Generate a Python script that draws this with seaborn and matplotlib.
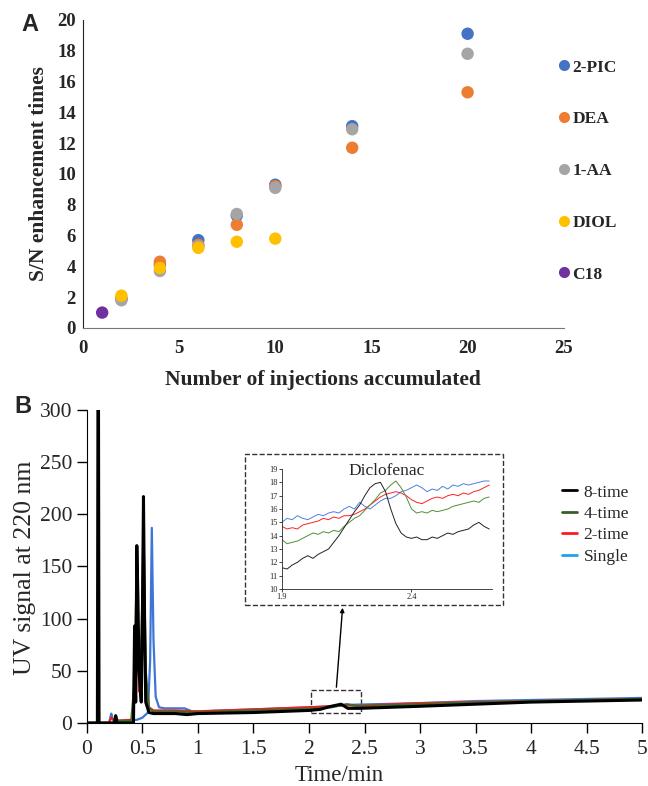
import numpy as np
import pandas as pd
import matplotlib
matplotlib.use("Agg")
import matplotlib.pyplot as plt
from matplotlib.lines import Line2D
from matplotlib.patches import Rectangle
import seaborn as sns

# ---- Panel A data: S/N enhancement vs number of injections
phases = ["2-PIC", "DEA", "1-AA", "DIOL", "C18"]
phase_colors = ["#4472c4", "#ed7d31", "#a5a5a5", "#ffc000", "#7030a0"]
inj_pic = [2, 4, 6, 8, 10, 14, 20]
sn_pic = [1.9, 4.1, 5.7, 7.3, 9.3, 13.1, 19.1]
inj_dea = [2, 4, 6, 8, 10, 14, 20]
sn_dea = [1.9, 4.3, 5.4, 6.7, 9.2, 11.7, 15.3]
inj_aa = [2, 4, 6, 8, 10, 14, 20]
sn_aa = [1.8, 3.7, 5.3, 7.4, 9.1, 12.9, 17.8]
inj_diol = [2, 4, 6, 8, 10]
sn_diol = [2.1, 3.9, 5.2, 5.6, 5.8]
inj_c18 = [1]
sn_c18 = [1.0]

# ---- Panel B data: chromatograms (time in min, UV signal)
t_single = [0, 0.2, 0.22, 0.23, 0.24, 0.3, 0.45, 0.5, 0.55, 0.57, 0.585, 0.6, 0.62, 0.65, 0.7, 0.88, 0.95,
            1.2, 1.5, 2.0, 2.2, 2.3, 2.4, 2.6, 3.0, 3.5, 4.0, 4.5, 5.0]
s_single = [0, 0, 9, 5, 2, 2, 3, 5, 10, 60, 187, 80, 25, 15, 14, 14, 11,
            12, 13, 15, 16, 17, 17.5, 18, 19, 21, 22, 23, 24]
t_2 = [0, 0.2, 0.22, 0.25, 0.4, 0.42, 0.43, 0.44, 0.45, 0.47, 0.5, 0.51, 0.53, 0.56, 0.6, 0.8, 1.0,
       1.5, 2.0, 2.2, 2.32, 2.45, 3.0, 3.5, 4.0, 4.5, 5.0]
s_2 = [0, 0, 5, 2, 3, 5, 82, 40, 120, 30, 90, 150, 40, 15, 12, 12, 11,
       13, 15, 16, 17, 16.5, 19, 20, 21, 22, 23]
t_4 = [0, 0.24, 0.26, 0.28, 0.4, 0.43, 0.44, 0.45, 0.46, 0.48, 0.5, 0.51, 0.53, 0.56, 0.6, 0.8, 1.0,
       1.5, 2.0, 2.2, 2.34, 2.45, 3.0, 3.5, 4.0, 4.5, 5.0]
s_4 = [0, 0, 7, 2, 2, 40, 100, 150, 80, 30, 120, 190, 50, 14, 11, 11, 10,
       12, 13.5, 15, 18, 16, 18, 19.5, 21, 22, 23]
t_8 = [0, 0.095, 0.1, 0.105, 0.11, 0.2, 0.25, 0.26, 0.27, 0.42, 0.43, 0.435, 0.44, 0.45, 0.46, 0.47,
       0.49, 0.5, 0.51, 0.52, 0.53, 0.56, 0.6, 0.8, 0.9, 1.0, 1.5, 2.0, 2.1, 2.2, 2.29, 2.35, 2.45,
       3.0, 3.5, 4.0, 4.5, 5.0]
s_8 = [0, 0, 305, 305, 0, 0, 0, 7, 0, 0, 93, 60, 20, 170, 120, 50,
       20, 100, 217, 100, 20, 10, 9, 9, 8, 9, 10, 12, 13, 16, 18, 14, 14,
       16, 18, 20, 21, 22]

# ---- Inset data: Diclofenac region
t_in = [1.90, 1.92, 1.94, 1.96, 1.98, 2.00, 2.02, 2.04, 2.06, 2.08, 2.10, 2.12, 2.14, 2.16, 2.18, 2.20,
        2.22, 2.24, 2.26, 2.28, 2.30, 2.32, 2.34, 2.36, 2.38, 2.40, 2.42, 2.44, 2.46, 2.48, 2.50, 2.52,
        2.54, 2.56, 2.58, 2.60, 2.62, 2.64, 2.66, 2.68, 2.70]
in_8 = [11.6, 11.5, 11.8, 12.0, 12.3, 12.5, 12.3, 12.6, 12.8, 13.0, 13.5, 14.0, 14.6, 15.2, 15.8, 16.3,
        17.0, 17.6, 17.9, 18.0, 17.3, 16.0, 14.9, 14.2, 13.9, 13.8, 13.9, 13.7, 13.7, 13.9, 13.8, 14.0,
        14.2, 14.1, 14.3, 14.4, 14.5, 14.8, 15.0, 14.7, 14.5]
in_4 = [13.7, 13.4, 13.5, 13.6, 13.8, 14.0, 14.2, 14.1, 14.3, 14.2, 14.4, 14.3, 14.7, 15.0, 15.3, 15.5,
        15.9, 16.3, 16.7, 17.2, 17.4, 17.8, 18.1, 17.6, 16.9, 16.0, 15.7, 15.8, 15.7, 15.9, 15.8, 15.9,
        16.0, 16.2, 16.3, 16.4, 16.5, 16.6, 16.5, 16.8, 16.9]
in_2 = [14.7, 14.5, 14.6, 14.5, 14.8, 14.9, 15.0, 15.1, 15.3, 15.2, 15.4, 15.3, 15.5, 15.5, 15.6, 15.8,
        16.0, 16.3, 16.6, 16.9, 17.1, 17.2, 17.3, 17.2, 17.0, 16.7, 16.5, 16.4, 16.6, 16.8, 16.9, 16.8,
        17.0, 17.1, 17.0, 17.2, 17.1, 17.3, 17.4, 17.6, 17.8]
in_1 = [15.0, 15.3, 15.2, 15.5, 15.3, 15.2, 15.4, 15.6, 15.5, 15.7, 15.8, 15.7, 16.0, 16.2, 16.0, 16.5,
        16.2, 16.0, 16.3, 16.6, 16.8, 16.8, 17.0, 17.3, 17.4, 17.6, 17.8, 17.6, 17.3, 17.5, 17.4, 17.7,
        17.5, 17.8, 17.7, 17.9, 17.8, 17.9, 18.0, 18.1, 18.1]

sns.set_style("white")
plt.rcParams["font.family"] = ["Liberation Serif", "DejaVu Serif"]

fig = plt.figure(figsize=(6.48, 7.86), dpi=100)

# ================= Panel A
axA = fig.add_axes([0.128, 0.5827, 0.742, 0.392])
dfA = pd.concat([
    pd.DataFrame({"x": inj_pic, "y": sn_pic, "phase": "2-PIC"}),
    pd.DataFrame({"x": inj_dea, "y": sn_dea, "phase": "DEA"}),
    pd.DataFrame({"x": inj_aa, "y": sn_aa, "phase": "1-AA"}),
    pd.DataFrame({"x": inj_diol, "y": sn_diol, "phase": "DIOL"}),
    pd.DataFrame({"x": inj_c18, "y": sn_c18, "phase": "C18"}),
], ignore_index=True)
sns.scatterplot(data=dfA, x="x", y="y", hue="phase", hue_order=phases,
                palette=phase_colors, s=80, edgecolor="none", ax=axA, legend=False)
axA.set_xlim(0, 25)
axA.set_ylim(0, 20)
axA.set_xticks(range(0, 26, 5))
axA.set_yticks(range(0, 21, 2))
axA.tick_params(axis="x", length=0, labelsize=13.5, pad=9)
axA.tick_params(axis="y", length=0, labelsize=13.5, pad=5)
for lab in axA.get_xticklabels() + axA.get_yticklabels():
    lab.set_fontweight("bold")
sns.despine(ax=axA)
axA.spines["left"].set_color("#222222")
axA.spines["bottom"].set_color("#777777")
axA.set_xlabel("Number of injections accumulated", fontsize=15.5, fontweight="bold")
axA.set_ylabel("S/N enhancement times", fontsize=15.5, fontweight="bold")
axA.xaxis.set_label_coords(0.5, -0.135)
axA.yaxis.set_label_coords(-0.07, 0.5)
handlesA = [Line2D([], [], ls="none", marker="o", ms=8, mec="none", mfc=c) for c in phase_colors]
axA.legend(handlesA, phases, loc="upper left", bbox_to_anchor=(0.971, 0.90),
           frameon=False, labelspacing=2.05, handlelength=0.6, handletextpad=0.2, borderpad=0,
           prop={"weight": "bold", "size": 12.5})
fig.text(0.033, 0.969, "A", fontsize=17, fontweight="bold", family="Liberation Sans", va="center")

# ================= Panel B
axB = fig.add_axes([0.134, 0.0802, 0.857, 0.3982])
traces = [("Single", t_single, s_single, "#3d76d6", 1.6),
          ("2-time", t_2, s_2, "#ff1a1a", 1.6),
          ("4-time", t_4, s_4, "#3e6b2a", 1.6),
          ("8-time", t_8, s_8, "black", 2.2)]
for name, t, s, c, lw in traces:
    sns.lineplot(x=t, y=s, color=c, lw=lw, sort=False, estimator=None, ax=axB)
axB.set_xlim(0, 5)
axB.set_ylim(0, 300)
axB.set_xticks(np.arange(0, 5.01, 0.5))
axB.set_xticklabels(["0", "0.5", "1", "1.5", "2", "2.5", "3", "3.5", "4", "4.5", "5"])
axB.set_yticks(range(0, 301, 50))
axB.tick_params(direction="out", length=7, width=1, labelsize=15.5, bottom=True, left=True, color="black")
axB.tick_params(axis="x", pad=5)
sns.despine(ax=axB)
axB.spines["left"].set_color("black")
axB.spines["bottom"].set_color("black")
axB.set_xlabel("Time/min", fontsize=16.5)
axB.set_ylabel("UV signal at 220 nm", fontsize=18.5)
axB.xaxis.set_label_coords(0.454, -0.135)
axB.yaxis.set_label_coords(-0.092, 0.495)

handlesB = [Line2D([], [], color=c, lw=2) for c in ["black", "#3a5e2a", "#ff1a1a", "#1da3ee"]]
axB.legend(handlesB, ["8-time", "4-time", "2-time", "Single"], loc="upper left",
           bbox_to_anchor=(0.84, 0.79), frameon=False, fontsize=12.5, labelspacing=0.3,
           handlelength=0.85, handletextpad=0.4, borderpad=0)

# zoom box + arrow
axB.add_patch(Rectangle((2.02, 9.6), 0.45, 22, fill=False, ls="--", lw=1, ec="#333333"))
axB.annotate("", xy=(0.529, 0.2303), xycoords="figure fraction", xytext=(2.245, 31.6),
             textcoords="data", arrowprops=dict(arrowstyle="-|>", color="black", lw=1, mutation_scale=6))
fig.patches.append(Rectangle((0.378, 0.2303), 0.398, 0.1921, transform=fig.transFigure,
                             fill=False, ls="--", lw=1, ec="#333333"))
fig.text(0.022, 0.483, "B", fontsize=17, fontweight="bold", family="Liberation Sans", va="center")

# ================= Inset
axI = fig.add_axes([0.435, 0.2506, 0.324, 0.1527])
for ys, c in [(in_1, "#4f7fe0"), (in_2, "#ff2020"), (in_4, "#4f8f3a"), (in_8, "#222222")]:
    sns.lineplot(x=t_in, y=ys, color=c, lw=0.7, sort=False, estimator=None, ax=axI)
axI.set_xlim(1.9, 2.71)
axI.set_ylim(10, 19)
axI.set_xticks([1.9, 2.4])
axI.set_yticks(range(10, 20))
axI.tick_params(direction="out", length=2, width=0.6, labelsize=6, pad=1, bottom=True, left=True)
sns.despine(ax=axI)
axI.spines["left"].set_linewidth(0.6)
axI.spines["bottom"].set_linewidth(0.6)
axI.patch.set_alpha(0)
axI.text(0.5, 0.98, "Diclofenac", transform=axI.transAxes, ha="center", va="center", fontsize=12.5)

fig.savefig("out.png", dpi=100)
